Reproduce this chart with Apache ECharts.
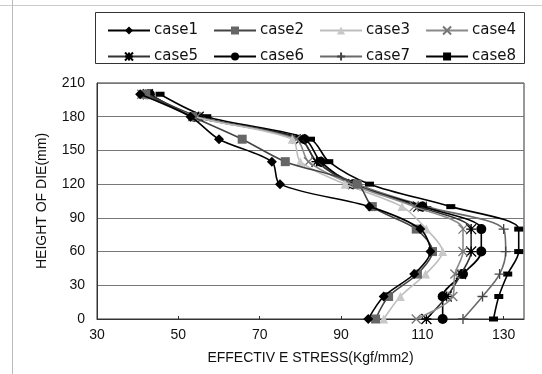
<!DOCTYPE html>
<html>
<head>
<meta charset="utf-8">
<script src="https://cdn.jsdelivr.net/npm/echarts@6/dist/echarts.min.js"></script>
<style>
html,body{margin:0;padding:0;background:#fff;}
#chart{width:542px;height:374px;}
</style>
</head>
<body>
<div id="chart"></div>
<script>
const heights = [0, 20, 40, 60, 80, 100, 120, 140, 160, 180, 200];
const case1 = [96.7, 100.5, 108, 112, 109.5, 97, 75, 73, 60, 53, 40.6];
const case2 = [98.5, 101.7, 108.8, 112.5, 108.5, 97.7, 94, 76.3, 65.7, 53.5, 42];
const case3 = [100.5, 104.6, 110.8, 115, 111, 105, 91, 80, 78, 54, 41.5];
const case4 = [108.5, 117.5, 118, 120, 120, 108, 92.5, 82, 79, 54.5, 41];
const case5 = [111, 116, 119.5, 122, 122, 109, 93, 84, 80, 55, 42.5];
const case6 = [115, 115, 120, 124.5, 124.5, 110, 93, 85, 81, 54, 43];
const case7 = [120, 124.8, 129, 130.5, 130, 111, 94, 84, 80, 55, 42];
const case8 = [127.5, 128.8, 131, 133.7, 133.7, 117, 97, 87, 82.5, 57, 45.5];
const seriesNames = ['case1','case2','case3','case4','case5','case6','case7','case8'];
const xTicks = [30, 50, 70, 90, 110, 130];
const yTicks = [0, 30, 60, 90, 120, 150, 180, 210];

const allData = [case1, case2, case3, case4, case5, case6, case7, case8];
const styles = [
  {line:'#000', sym:'diamond', size:10, fill:'#000', stroke:null},
  {line:'#444', sym:'rect', size:9, fill:'#666', stroke:null},
  {line:'#bdbdbd', sym:'triangle', size:9, fill:'#c8c8c8', stroke:null},
  {line:'#8a8a8a', sym:'path://M0,0L10,10M10,0L0,10', size:9, fill:'none', stroke:'#777'},
  {line:'#333', sym:'path://M0,0L10,10M10,0L0,10M5,0L5,10M0,5L10,5', size:10, fill:'none', stroke:'#000'},
  {line:'#000', sym:'circle', size:10, fill:'#000', stroke:null},
  {line:'#6a6a6a', sym:'path://M5,0L5,10M0,5L10,5', size:10, fill:'none', stroke:'#444'},
  {line:'#000', sym:'rect', size:[9,5], fill:'#000', stroke:null}
];

const series = seriesNames.map((n, i) => {
  const st = styles[i];
  const itemStyle = st.stroke ? {color:'rgba(0,0,0,0)', borderColor:st.stroke, borderWidth:1.3} : {color:st.fill};
  return {
    name: n,
    type: 'line',
    data: heights.map((h, k) => [allData[i][k], h]),
    symbol: st.sym,
    symbolSize: st.size,
    smooth: 0.3,
    showAllSymbol: true,
    lineStyle: {color: st.line, width: 1.6},
    itemStyle: itemStyle,
    emphasis: {disabled: true},
    z: 10 - i
  };
});

const legendCommon = {
  left: 102,
  itemWidth: 42,
  itemHeight: 10,
  itemGap: 15,
  textStyle: {fontFamily: 'DejaVu Sans', fontSize: 15, color: '#111', padding:[0,0,0,-1]},
  selectedMode: false
};

const chart = echarts.init(document.getElementById('chart'), null, {renderer:'canvas'});
chart.setOption({
  animation: false,
  backgroundColor: '#fff',
  textStyle: {fontFamily: 'Liberation Sans'},
  graphic: [
    {type:'rect', shape:{x:95.5, y:12.5, width:429, height:51}, style:{fill:'none', stroke:'#333', lineWidth:1}, z:0},
    {type:'line', shape:{x1:0, y1:5.5, x2:542, y2:5.5}, style:{stroke:'#ccc', lineWidth:1}},
    {type:'line', shape:{x1:12.5, y1:0, x2:12.5, y2:374}, style:{stroke:'#bbb', lineWidth:1}}
  ],
  legend: [
    Object.assign({top: 18, data: seriesNames.slice(0,4)}, legendCommon),
    Object.assign({top: 44, data: seriesNames.slice(4,8)}, legendCommon)
  ],
  grid: {left: 97, right: 18, top: 83, bottom: 55, show: true, borderColor: '#333', borderWidth: 1, backgroundColor:'#fff'},
  xAxis: {
    type: 'value',
    min: xTicks[0], max: 135, interval: 20,
    name: 'EFFECTIV E STRESS(Kgf/mm2)',
    nameLocation: 'middle', nameGap: 32,
    nameTextStyle: {fontSize: 14, color: '#111', fontFamily: 'Liberation Sans'},
    axisLine: {show: true, lineStyle: {color: '#333'}},
    axisTick: {show: true, inside: true, length: 3, lineStyle: {color: '#333'}},
    axisLabel: {fontSize: 14, color: '#111', margin: 9, showMaxLabel: false},
    splitLine: {show: false}
  },
  yAxis: {
    type: 'value',
    min: yTicks[0], max: yTicks[yTicks.length-1], interval: 30,
    name: 'HEIGHT OF DIE(mm)',
    nameLocation: 'middle', nameGap: 48,
    nameTextStyle: {fontSize: 14, color: '#111', fontFamily: 'Liberation Sans'},
    axisLine: {show: true, lineStyle: {color: '#333'}},
    axisTick: {show: false},
    axisLabel: {fontSize: 14, color: '#111', margin: 12},
    splitLine: {show: true, lineStyle: {color: '#777', width: 1}}
  },
  series: series
});
</script>
</body>
</html>
